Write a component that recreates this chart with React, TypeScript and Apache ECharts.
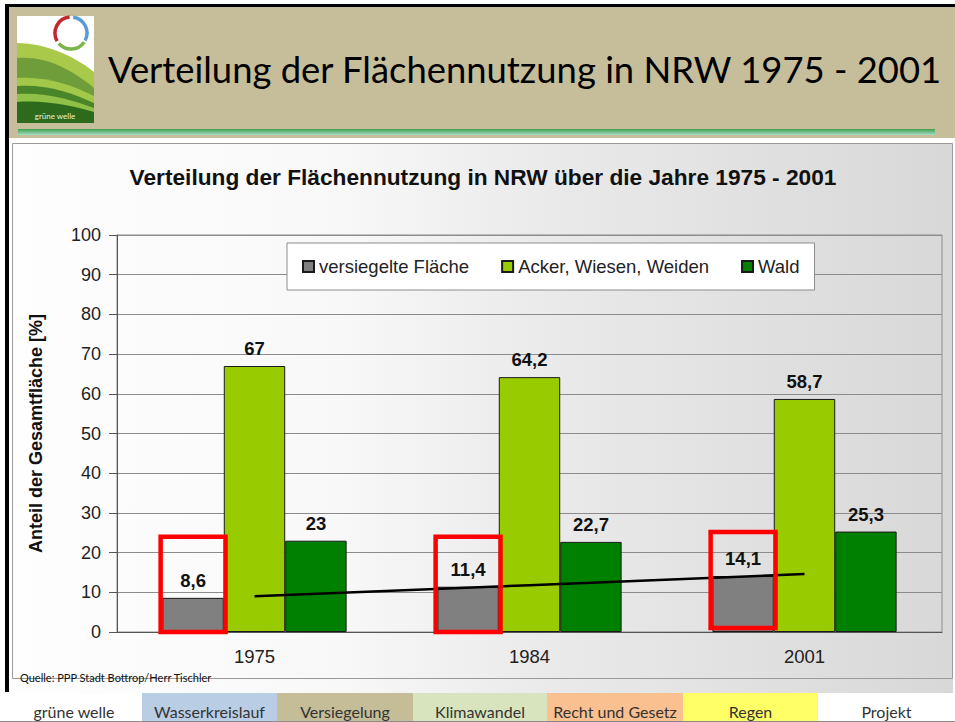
import React, { useEffect, useRef } from "react";
import * as echarts from "echarts";

// ---- data ----
const categories = ["1975", "1984", "2001"];
const seriesNames = ["versiegelte Fläche", "Acker, Wiesen, Weiden", "Wald"];
const sealedArea = [8.6, 11.4, 14.1];
const farmland = [67, 64.2, 58.7];
const forest = [23, 22.7, 25.3];
const trendLine = [9.0, 11.8, 14.6];
// [category index, lower value, upper value] of the red highlight boxes
const highlightBoxes = [
  [0, 0, 24],
  [1, 0, 24],
  [2, 1, 25.2],
];
const yMin = 0;
const yMax = 100;
const yInterval = 10;
const footerLabels = [
  "grüne welle",
  "Wasserkreislauf",
  "Versiegelung",
  "Klimawandel",
  "Recht und Gesetz",
  "Regen",
  "Projekt",
];
const headerTitle = "Verteilung der Flächennutzung in NRW 1975 - 2001";
const chartTitle = "Verteilung der Flächennutzung in NRW über die Jahre 1975 - 2001";
const yAxisName = "Anteil der Gesamtfläche [%]";
const sourceText = "Quelle: PPP Stadt Bottrop/Herr Tischler";
const logoText = "grüne welle";

// ---- styles ----
const AR = "Liberation Sans, Arial, sans-serif";
const CAL = "Lato, Carlito, sans-serif";
const barColors = ["#808080", "#99cc00", "#008000"];
const footerColors = ["#ffffff", "#b9cde5", "#c4bd97", "#d7e4bd", "#fac090", "#ffff66", "#ffffff"];
const footerEdges = [6, 142, 277, 413, 547, 683, 818, 955];
const BAR_CAT_GAP = 0.33;

const hillPaths = [
  "M0 27 C25 27 55 38 77 56 L77 107 L0 107 Z",
  "M0 42 C30 40 55 54 77 72 L77 107 L0 107 Z",
  "M0 62 C30 60 55 69 77 80 L77 107 L0 107 Z",
  "M0 70 C30 68 55 77 77 87 L77 107 L0 107 Z",
  "M0 78 C30 76 55 84 77 92 L77 107 L0 107 Z",
  "M0 86 C30 84 55 90 77 96 L77 107 L0 107 Z",
];
const hillColors = ["#a8c94a", "#6f9d3a", "#a2c84a", "#4a8529", "#8fc048", "#2d6a1c"];
hillPaths.forEach((d, i) => {
  echarts.graphic.registerShape("hill" + i, echarts.graphic.extendPath(d, {}));
});

function fmt(v: number): string {
  return String(v).replace(".", ",");
}

export default function App() {
  const ref = useRef<HTMLDivElement>(null);

  useEffect(() => {
    const chart = echarts.init(ref.current!, null, { renderer: "svg" });

    const deg = Math.PI / 180;
    const graphicEls: any[] = [];

    // chart image background (texture approximation)
    graphicEls.push({
      type: "rect",
      z: -10,
      shape: { x: 12, y: 143, width: 941, height: 550 },
      style: {
        fill: {
          type: "linear",
          x: 0, y: 0, x2: 1, y2: 0,
          colorStops: [
            { offset: 0, color: "#fefefe" },
            { offset: 0.35, color: "#f8f8f8" },
            { offset: 0.55, color: "#ebebeb" },
            { offset: 0.8, color: "#e0e0e0" },
            { offset: 1, color: "#d8d8d8" },
          ],
        },
      },
    });
    graphicEls.push({
      type: "rect",
      z: -9,
      shape: { x: 12.5, y: 143.5, width: 940, height: 535 },
      style: { fill: "none", stroke: "#9a9a9a", lineWidth: 1 },
    });

    // header
    graphicEls.push({ type: "rect", z: -9, shape: { x: 8, y: 6, width: 947, height: 132 }, style: { fill: "#c6be9a" } });
    graphicEls.push({
      type: "rect",
      z: -8,
      shape: { x: 18, y: 129, width: 917, height: 6 },
      style: {
        fill: {
          type: "linear",
          x: 0, y: 0, x2: 0, y2: 1,
          colorStops: [
            { offset: 0, color: "#3f9f4a" },
            { offset: 1, color: "#a6dcc8" },
          ],
        },
      },
    });
    // black slide border
    graphicEls.push({ type: "rect", z: -7, shape: { x: 5, y: 4, width: 950, height: 3 }, style: { fill: "#000" } });
    graphicEls.push({ type: "rect", z: -7, shape: { x: 5, y: 4, width: 4, height: 688 }, style: { fill: "#000" } });

    // logo
    graphicEls.push({ type: "rect", z: -7, shape: { x: 17, y: 16, width: 77, height: 107 }, style: { fill: "#ffffff" } });
    hillPaths.forEach((_, i) => {
      graphicEls.push({ type: "hill" + i, z: -6, x: 17, y: 16, style: { fill: hillColors[i] } });
    });
    const ringArcs = [
      { s: 150, e: 265, c: "#c3272d" },
      { s: 278, e: 388, c: "#5b9bd5" },
      { s: 35, e: 140, c: "#79b548" },
    ];
    ringArcs.forEach((a) => {
      graphicEls.push({
        type: "arc",
        z: -5,
        shape: { cx: 71, cy: 33, r: 16, startAngle: a.s * deg, endAngle: a.e * deg, clockwise: true },
        style: { fill: "none", stroke: a.c, lineWidth: 3.5 },
      });
    });
    graphicEls.push({
      type: "text",
      z: -5,
      x: 55,
      y: 116,
      style: { text: logoText, fill: "#e8f3d8", font: "8px " + CAL, textAlign: "center", textVerticalAlign: "middle" },
    });

    // header title
    graphicEls.push({
      type: "text",
      z: -5,
      x: 108,
      y: 69,
      style: { text: headerTitle, fill: "#000", font: "36.4px " + CAL, textAlign: "left", textVerticalAlign: "middle" },
    });

    // chart title
    graphicEls.push({
      type: "text",
      z: -5,
      x: 483,
      y: 177,
      style: { text: chartTitle, fill: "#111", font: "bold 22.7px " + AR, textAlign: "center", textVerticalAlign: "middle" },
    });

    // source
    graphicEls.push({
      type: "text",
      z: 10,
      x: 20,
      y: 677,
      style: { text: sourceText, fill: "#111", font: "11px " + CAL, textAlign: "left", textVerticalAlign: "middle" },
    });

    // footer
    footerLabels.forEach((lab, i) => {
      const x0 = footerEdges[i];
      const x1 = footerEdges[i + 1];
      graphicEls.push({
        type: "rect",
        z: -5,
        shape: { x: x0, y: 693, width: x1 - x0, height: 29 },
        style: { fill: footerColors[i] },
      });
      graphicEls.push({
        type: "text",
        z: -4,
        x: (x0 + x1) / 2,
        y: 711,
        style: { text: lab, fill: "#333", font: "16px " + CAL, textAlign: "center", textVerticalAlign: "middle" },
      });
    });
    graphicEls.push({
      type: "line",
      z: -4,
      shape: { x1: 0, y1: 721.5, x2: 955, y2: 721.5 },
      style: { stroke: "#8a8a8a", lineWidth: 1 },
    });

    const barLabel = {
      show: true,
      position: "top",
      distance: 8,
      formatter: (p: any) => fmt(p.value),
      fontFamily: AR,
      fontWeight: "bold",
      fontSize: 18.5,
      color: "#111",
    };

    const barSeries = [sealedArea, farmland, forest].map((d, i) => ({
      type: "bar",
      name: seriesNames[i],
      data: d,
      barGap: "0%",
      barCategoryGap: BAR_CAT_GAP * 100 + "%",
      itemStyle: { color: barColors[i], borderColor: "#1a1a1a", borderWidth: 1 },
      label: barLabel,
      z: 2,
    }));

    chart.setOption({
      animation: false,
      backgroundColor: "#ffffff",
      textStyle: { fontFamily: AR },
      graphic: { elements: graphicEls },
      legend: {
        data: seriesNames,
        left: 287,
        top: 243,
        padding: [14, 15, 14, 15],
        itemGap: 32,
        itemWidth: 11,
        itemHeight: 11,
        icon: "rect",
        backgroundColor: "#ffffff",
        borderColor: "#8c8c8c",
        borderWidth: 1,
        textStyle: { fontFamily: AR, fontSize: 18.5, color: "#222" },
      },
      grid: {
        left: 117,
        right: 13,
        top: 235,
        bottom: 90,
        show: true,
        backgroundColor: "transparent",
        borderColor: "#8c8c8c",
        borderWidth: 1,
      },
      xAxis: {
        type: "category",
        data: categories,
        axisLine: { lineStyle: { color: "#555" } },
        axisTick: { length: 6, lineStyle: { color: "#555" } },
        axisLabel: { fontFamily: AR, fontSize: 18.5, color: "#222", margin: 15 },
      },
      yAxis: {
        type: "value",
        min: yMin,
        max: yMax,
        interval: yInterval,
        name: yAxisName,
        nameLocation: "middle",
        nameGap: 72,
        nameRotate: 90,
        nameTextStyle: { fontFamily: AR, fontWeight: "bold", fontSize: 18, color: "#111" },
        axisLine: { show: true, lineStyle: { color: "#555" } },
        axisTick: { show: true, length: 8, lineStyle: { color: "#555" } },
        axisLabel: { fontFamily: AR, fontSize: 18, color: "#222", margin: 16 },
        splitLine: { lineStyle: { color: "#8c8c8c" } },
      },
      series: [
        ...barSeries,
        {
          type: "line",
          name: "Trend",
          data: trendLine,
          symbol: "none",
          silent: true,
          lineStyle: { color: "#000", width: 2.5 },
          z: 5,
        },
        {
          type: "custom",
          name: "Markierung",
          data: highlightBoxes,
          encode: { x: 0, y: [1, 2] },
          silent: true,
          z: 6,
          renderItem: (params: any, api: any) => {
            const i = api.value(0);
            const lo = api.coord([i, api.value(1)]);
            const hi = api.coord([i, api.value(2)]);
            const catW = api.size([1, 0])[0];
            const barW = (catW * (1 - BAR_CAT_GAP)) / 3;
            const cx = lo[0] - barW;
            const w = barW + 3.5;
            return {
              type: "rect",
              shape: { x: cx - w / 2, y: hi[1], width: w, height: lo[1] - hi[1] },
              style: { fill: "none", stroke: "#ff0000", lineWidth: 4.5 },
            };
          },
        },
      ],
    });

    return () => chart.dispose();
  }, []);

  return (
    <div
      ref={ref}
      style={{ position: "absolute", left: 0, top: 0, width: 955, height: 722 }}
    />
  );
}
